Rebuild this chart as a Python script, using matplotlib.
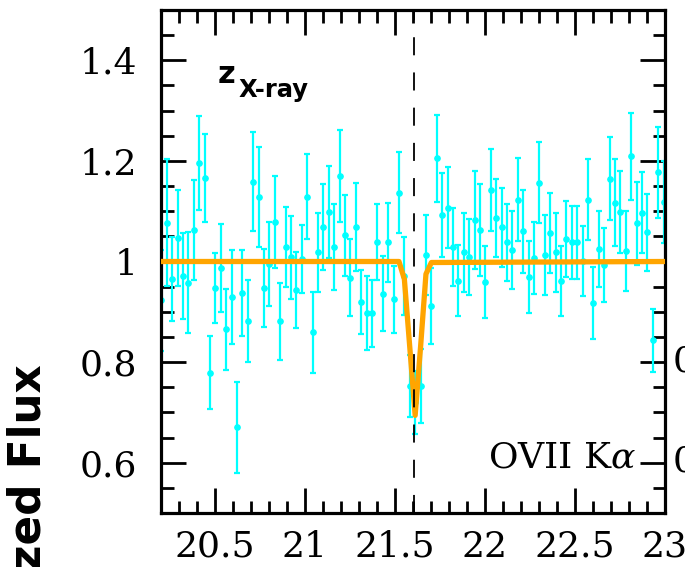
import numpy as np
import matplotlib
matplotlib.use("Agg")
import matplotlib.pyplot as plt
from matplotlib.ticker import MultipleLocator, FuncFormatter

# binned spectrum around the OVII K-alpha line
wave = [
    20.202, 20.232, 20.262, 20.292, 20.322, 20.352, 20.382, 20.412, 20.442, 20.472,
    20.502, 20.532, 20.562, 20.592, 20.622, 20.652, 20.682, 20.712, 20.742, 20.772,
    20.802, 20.832, 20.862, 20.892, 20.922, 20.952, 20.982, 21.012, 21.042, 21.072,
    21.102, 21.132, 21.162, 21.192, 21.222, 21.252, 21.282, 21.312, 21.342, 21.372,
    21.402, 21.432, 21.462, 21.492, 21.522, 21.552, 21.582, 21.612, 21.642, 21.672,
    21.702, 21.732, 21.762, 21.792, 21.822, 21.852, 21.882, 21.912, 21.942, 21.972,
    22.002, 22.032, 22.062, 22.092, 22.122, 22.152, 22.182, 22.212, 22.242, 22.272,
    22.302, 22.332, 22.362, 22.392, 22.422, 22.452, 22.482, 22.512, 22.542, 22.572,
    22.602, 22.632, 22.662, 22.692, 22.722, 22.752, 22.782, 22.812, 22.842, 22.872,
    22.902, 22.932, 22.962, 22.992,
]
flux = [
    0.923, 1.077, 0.965, 1.047, 0.971, 0.958, 1.063, 1.196, 1.166, 0.779,
    0.947, 0.987, 0.865, 0.929, 0.670, 0.937, 0.882, 1.159, 1.128, 0.947,
    0.995, 1.078, 0.881, 1.029, 1.008, 0.943, 1.005, 1.129, 0.859, 1.018,
    1.069, 1.098, 1.029, 1.170, 1.052, 0.968, 1.069, 0.920, 0.898, 0.897,
    1.039, 0.936, 1.038, 0.925, 1.137, 0.971, 0.752, 0.720, 0.753, 1.013,
    0.912, 1.205, 1.092, 1.107, 1.029, 0.962, 1.018, 1.009, 1.083, 1.063,
    0.959, 1.142, 1.087, 1.068, 1.038, 1.023, 1.123, 1.060, 0.969, 1.007,
    1.157, 1.013, 1.057, 1.018, 0.961, 1.045, 1.038, 1.038, 1.001, 1.123,
    0.918, 1.025, 0.993, 1.165, 1.117, 1.098, 1.021, 1.209, 1.076, 1.097,
    1.058, 0.843, 1.177, 1.118,
]
flux_err = [
    0.100, 0.126, 0.084, 0.096, 0.085, 0.100, 0.100, 0.093, 0.087, 0.072,
    0.069, 0.087, 0.081, 0.093, 0.091, 0.086, 0.082, 0.099, 0.099, 0.078,
    0.083, 0.091, 0.077, 0.079, 0.082, 0.076, 0.067, 0.084, 0.080, 0.078,
    0.086, 0.092, 0.085, 0.091, 0.081, 0.076, 0.087, 0.064, 0.073, 0.067,
    0.076, 0.075, 0.079, 0.067, 0.080, 0.078, 0.062, 0.062, 0.074, 0.080,
    0.076, 0.086, 0.084, 0.080, 0.077, 0.071, 0.079, 0.076, 0.097, 0.092,
    0.072, 0.082, 0.078, 0.078, 0.076, 0.077, 0.083, 0.082, 0.072, 0.071,
    0.080, 0.079, 0.080, 0.079, 0.070, 0.075, 0.073, 0.073, 0.070, 0.081,
    0.072, 0.076, 0.074, 0.082, 0.086, 0.082, 0.079, 0.087, 0.082, 0.080,
    0.077, 0.063, 0.091, 0.082,
]

# best-fit absorption model
model_wave = [20.20, 21.522, 21.552, 21.582, 21.612, 21.642, 21.672, 21.702, 23.00]
model_flux = [1.0, 1.0, 0.965, 0.83, 0.694, 0.83, 0.975, 0.998, 1.0]

line_center = 21.607

plt.rcParams["mathtext.fontset"] = "dejavuserif"

fig = plt.figure(figsize=(6.85, 5.67), dpi=100)
ax = fig.add_axes([161 / 685, 1 - 513 / 567, 504 / 685, 503 / 567])

ax.errorbar(wave, flux, yerr=flux_err, fmt="o", color="cyan", ms=3.8,
            elinewidth=1.6, capsize=2.2, capthick=1.6, zorder=2)
ax.plot(model_wave, model_flux, color="orange", lw=3.8,
        solid_joinstyle="round", zorder=3)
ax.axvline(line_center, color="black", lw=1.3, dashes=(10, 9.5), zorder=4)

ax.set_xlim(20.2, 23.0)
ax.set_ylim(0.5, 1.5)
ax.xaxis.set_major_locator(MultipleLocator(0.5))
ax.xaxis.set_minor_locator(MultipleLocator(0.1))
ax.yaxis.set_major_locator(MultipleLocator(0.2))
ax.yaxis.set_minor_locator(MultipleLocator(0.05))
fmt = FuncFormatter(lambda v, pos: "%g" % round(v, 3))
ax.xaxis.set_major_formatter(fmt)
ax.yaxis.set_major_formatter(fmt)

for s in ax.spines.values():
    s.set_linewidth(2.3)
ax.tick_params(which="both", direction="in", top=True, right=True, width=2.0)
ax.tick_params(which="major", length=18)
ax.tick_params(which="minor", length=9)
ax.tick_params(axis="x", which="major", pad=12)
ax.tick_params(axis="y", which="major", pad=17)
for lab in ax.get_xticklabels() + ax.get_yticklabels():
    lab.set_fontfamily("DejaVu Serif")
    lab.set_fontsize(26)

ax.text(20.517, 1.354, "z", fontsize=22, fontweight="bold",
        family="DejaVu Sans", va="baseline")
ax.text(20.628, 1.328, "X-ray", fontsize=17.5, fontweight="bold",
        family="DejaVu Sans", va="baseline")
ax.text(22.017, 0.59, r"OVII K$\alpha$", fontsize=26,
        family="DejaVu Serif", va="baseline")

fig.text(28.5 / 685, 1 - 364 / 567, "Normalized Flux", rotation=90,
         ha="center", va="top", fontsize=31.5, fontweight="bold",
         family="DejaVu Sans")
# tick labels of the neighbouring panel
fig.text(673 / 685, 1 - 362 / 567, "0.8", ha="left", va="center",
         fontsize=26, family="DejaVu Serif")
fig.text(673 / 685, 1 - 462 / 567, "0.6", ha="left", va="center",
         fontsize=26, family="DejaVu Serif")

fig.savefig("out.png", dpi=100)
